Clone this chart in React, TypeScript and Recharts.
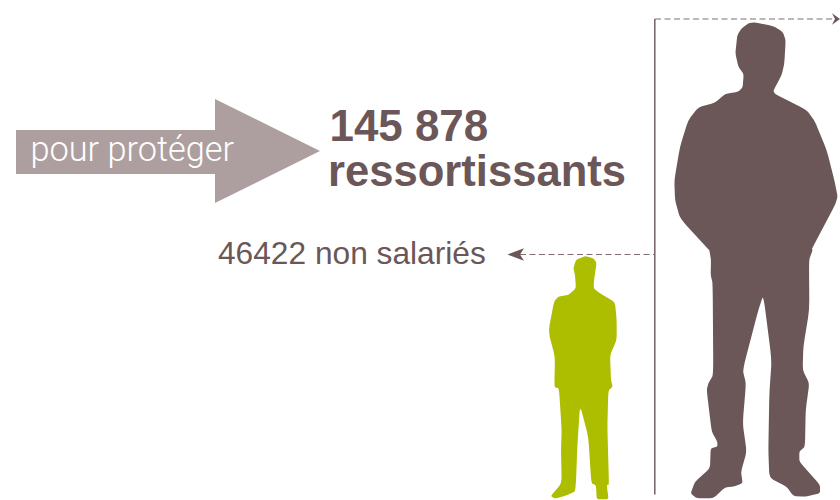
import React from "react";
import { BarChart, Bar, XAxis, YAxis, ReferenceLine } from "recharts";

// ---- data ----
const figureNames = ["non salariés", "ressortissants"];
const figureValues = [46422, 145878];
const titleLines = ["145 878", "ressortissants"];
const arrowLabel = "pour protéger";
const sideLabel = "46422 non salariés";

const chartData = figureNames.map((name, i) => ({ name, value: figureValues[i] }));

// value-axis window: figures are not drawn to a zero-based scale in the original
const AXIS_MIN = -57261;
const AXIS_MAX = 153902;
const FLOOR = -57050;

const BROWN = "#6b5758";
const GREEN = "#adbd00";
const TAUPE = "#ad9f9f";

type Pt = [number, number];
const bigUpper: Pt[] = [
  [345,67],[400,78],[428,95],[437,120],[433,190],[425,225],[400,272],[405,282],[500,330],[525,365],[560,450],[583,540],[593,590],[585,615],[515,748],
];
const bigLower: Pt[] = [
  [518,0],[507,30],[508,180],[490,290],[488,360],[508,400],[497,480],[495,590],[478,605],[478,635],[540,705],[540,730],[495,740],[460,738],[440,710],[388,683],[385,600],[388,430],[395,330],[370,135],[355,180],[308,360],[318,400],[308,520],[320,605],[303,665],[308,700],[280,710],[255,712],[220,745],[170,745],[152,730],[165,695],[210,655],[212,595],[232,590],[232,575],[215,545],[200,420],[205,400],[220,375],[218,100],[212,75],[213,30],[208,0],
];
const bigBack: Pt[] = [
  [205,748],[120,655],[105,600],[103,540],[120,440],[145,360],[175,322],[225,308],[255,282],[295,275],[308,262],[311,222],[295,200],[286,160],[292,105],[305,85],[325,70],
];
const bigOutline: Pt[] = [
  ...bigUpper,
  ...bigLower.map(([x, y]): Pt => [x, y + 750]),
  ...bigBack,
];
const smallOutline: Pt[] = [
  [255,48],[280,55],[290,68],[282,120],[281,145],[300,160],[345,187],[350,240],[350,300],[330,345],[333,420],[338,440],[325,452],[322,560],[327,735],[320,735],[326,778],[290,778],[288,735],[274,730],[265,590],[240,495],[232,620],[228,725],[225,755],[195,768],[165,776],[152,768],[185,730],[183,630],[185,570],[177,445],[163,442],[165,350],[145,275],[162,185],[175,170],[205,165],[228,145],[225,105],[220,85],[228,60],
];

const toPath = (pts: Pt[]) => {
  // slightly softened corners between outline points
  const n = pts.length;
  const lerp = (a: Pt, b: Pt, t: number): Pt => [a[0] + (b[0] - a[0]) * t, a[1] + (b[1] - a[1]) * t];
  const t = 0.22;
  let d = "";
  for (let i = 0; i < n; i++) {
    const prev = pts[(i + n - 1) % n];
    const cur = pts[i];
    const next = pts[(i + 1) % n];
    const a = lerp(cur, prev, t);
    const b = lerp(cur, next, t);
    d += `${i === 0 ? "M" : "L"}${a[0]} ${a[1]}Q${cur[0]} ${cur[1]} ${b[0]} ${b[1]}`;
  }
  return d + "Z";
};

const figures = [
  { d: toPath(smallOutline), fill: GREEN, cx: 247.5, top: 43.5, h: 735 },
  { d: toPath(bigOutline), fill: BROWN, cx: 352.5, top: 57, h: 1441.5 },
];

const FigureShape = (props: any) => {
  const { x, y, width, height, index } = props;
  const f = figures[index];
  const s = height / f.h;
  return (
    <path
      d={f.d}
      fill={f.fill}
      transform={`translate(${x + width / 2} ${y}) scale(${s}) translate(${-f.cx} ${-f.top})`}
    />
  );
};

const SmallLevel = (props: any) => {
  const y = props.y1;
  return (
    <g>
      <line x1={520} x2={655} y1={y} y2={y} stroke={BROWN} strokeWidth={1.2} strokeDasharray="6 3.5" opacity={0.85} />
      <polygon points={`524,${y - 6.2} 507.5,${y} 524,${y + 6.2} 520,${y}`} fill={BROWN} />
      <text x={218} y={y + 10} fontFamily="'Liberation Sans'" fontSize={31.7} fill={BROWN}>
        {sideLabel}
      </text>
    </g>
  );
};

const BigLevel = (props: any) => {
  const y = props.y1;
  return (
    <g>
      <line x1={655} x2={835} y1={y} y2={y} stroke={BROWN} strokeWidth={1.2} strokeDasharray="6 3.5" opacity={0.85} />
      <polygon points={`832,${y - 5.8} 840,${y} 832,${y + 5.8} 835,${y}`} fill={BROWN} />
      <line x1={654.8} x2={654.8} y1={y} y2={494.5} stroke={BROWN} strokeWidth={1.4} />
    </g>
  );
};

const Headline = () => (
  <g>
    <polygon points="16,130 215,130 215,99 320,151 215,203 215,174 16,174" fill={TAUPE} />
    <text x={30.5} y={161} fontFamily="Roboto, 'Liberation Sans'" fontWeight={300} fontSize={34.3} fill="#ffffff">
      {arrowLabel}
    </text>
    <text x={329.5} y={140.5} fontFamily="'Liberation Sans'" fontWeight={700} fontSize={43.9} fill={BROWN}>
      {titleLines[0]}
    </text>
    <text x={328} y={186} fontFamily="'Liberation Sans'" fontWeight={700} fontSize={43.6} fill={BROWN}>
      {titleLines[1]}
    </text>
  </g>
);

export default function App() {
  return (
    <div style={{ position: "absolute", left: 0, top: 0, width: 840, height: 500, overflow: "hidden", background: "#fff" }}>
      <BarChart
        width={845}
        height={500}
        data={chartData}
        margin={{ top: 0, right: 0, bottom: 0, left: 495 }}
        barCategoryGap={0}
      >
        <XAxis dataKey="name" hide />
        <YAxis hide domain={[AXIS_MIN, AXIS_MAX]} allowDataOverflow />
        <Bar
          dataKey={(d: any) => [FLOOR, d.value]}
          isAnimationActive={false}
          shape={FigureShape}
        />
        <ReferenceLine y={figureValues[0]} ifOverflow="visible" shape={SmallLevel} />
        <ReferenceLine y={figureValues[1]} ifOverflow="visible" shape={BigLevel} />
        <Headline />
      </BarChart>
    </div>
  );
}
